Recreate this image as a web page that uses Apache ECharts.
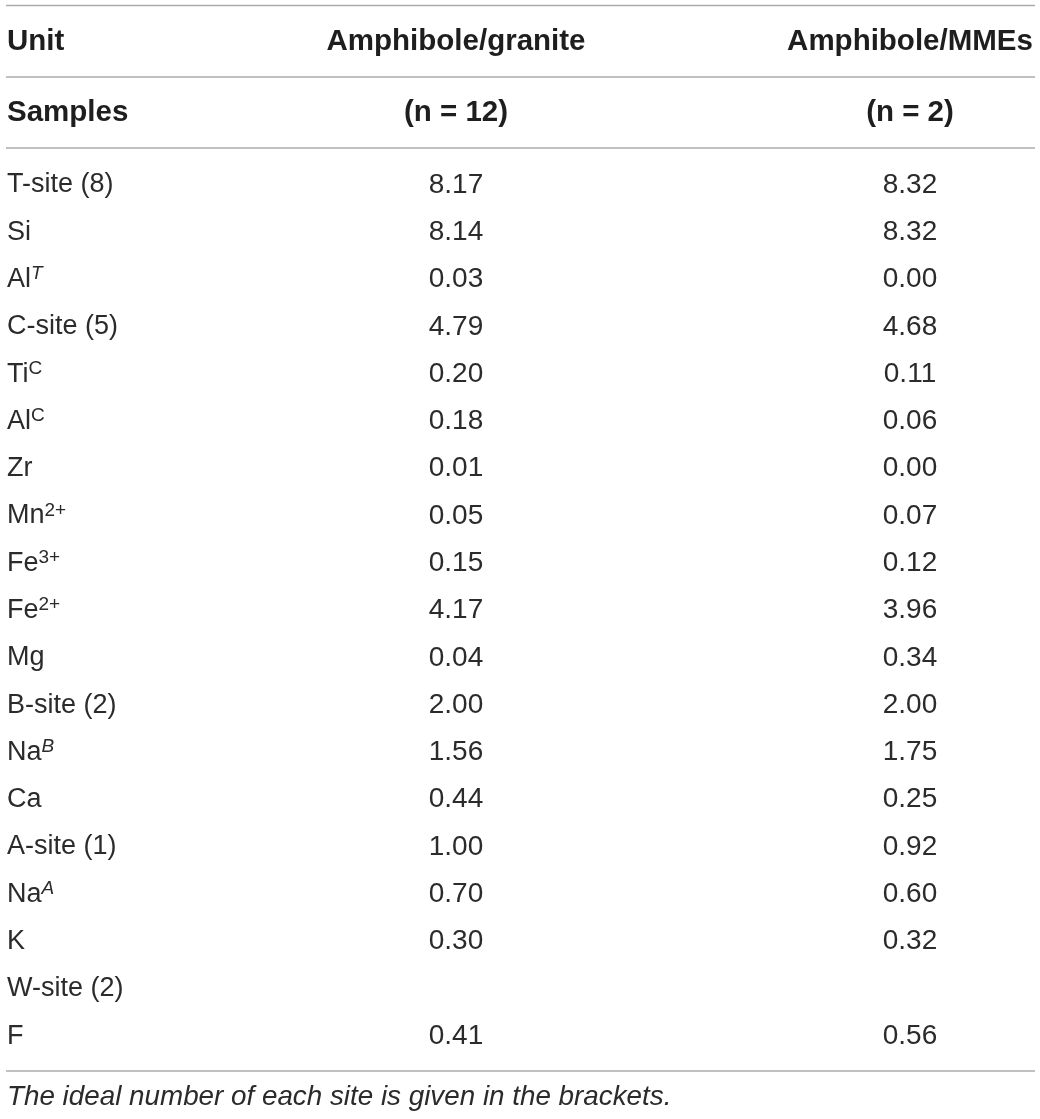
<!DOCTYPE html>
<html>
<head>
<meta charset="utf-8">
<script src="https://cdn.jsdelivr.net/npm/echarts@6/dist/echarts.min.js"></script>
<style>
  html, body { margin: 0; padding: 0; background: #fff; }
  #chart { width: 1040px; height: 1119px; }
</style>
</head>
<body>
<div id="chart"></div>
<script>
// ---------- table data ----------
const headerTop = ['Unit', 'Amphibole/granite', 'Amphibole/MMEs']
const headerSub = ['Samples', '(n = 12)', '(n = 2)']

// row keys + how they are printed (rich text for super/subscripts)
const rowKeys = ['T-site (8)', 'Si', 'AlT', 'C-site (5)', 'TiC', 'AlC', 'Zr', 'Mn2+', 'Fe3+', 'Fe2+', 'Mg',
  'B-site (2)', 'NaB', 'Ca', 'A-site (1)', 'NaA', 'K', 'W-site (2)', 'F']
const rowLabels = ['T-site (8)', 'Si', 'Al{it|T}', 'C-site (5)', 'Ti{sup|C}', 'Al{sup|C}', 'Zr', 'Mn{sup|2+}', 'Fe{sup|3+}', 'Fe{sup|2+}', 'Mg',
  'B-site (2)', 'Na{it|B}', 'Ca', 'A-site (1)', 'Na{it|A}', 'K', 'W-site (2)', 'F']

const granite = [8.17, 8.14, 0.03, 4.79, 0.20, 0.18, 0.01, 0.05, 0.15, 4.17, 0.04, 2.00, 1.56, 0.44, 1.00, 0.70, 0.30, null, 0.41]
const mmes = [8.32, 8.32, 0.00, 4.68, 0.11, 0.06, 0.00, 0.07, 0.12, 3.96, 0.34, 2.00, 1.75, 0.25, 0.92, 0.60, 0.32, null, 0.56]

const caption = 'The ideal number of each site is given in the brackets.'

// ---------- layout / style ----------
const FONT = '"Liberation Sans", Arial, Helvetica, sans-serif'
const INK = '#2b2b2b'
const RULE = '#ababab'
const COL_X = [7, 456, 910]          // anchor of each column (px on a 0..1040 x scale)
const SIZE = 28

function rule(y) {
  return { type: 'line', shape: { x1: 6, y1: y, x2: 1035, y2: y }, style: { stroke: RULE, lineWidth: 1.5 }, silent: true }
}

function headText(txt, i, y) {
  return {
    type: 'text', x: COL_X[i], y,
    style: { text: txt, fill: '#1e1e1e', fontFamily: FONT, fontSize: 29.5, fontWeight: 'bold',
      align: i === 0 ? 'left' : 'center', verticalAlign: 'middle' },
  }
}

/** one column of numbers drawn on the category rows */
function valueColumn(name, col, values) {
  return {
    type: 'custom', name,
    data: values.map((v, i) => [COL_X[col], rowKeys[i]]),
    encode: { x: 0, y: 1 },
    renderItem(params, api) {
      const v = values[params.dataIndex]
      if (v == null) return null
      const p = api.coord([api.value(0), api.value(1)])
      return {
        type: 'text', x: p[0], y: p[1],
        style: { text: v.toFixed(2), fill: INK, fontFamily: FONT, fontSize: SIZE, align: 'center', verticalAlign: 'middle' },
      }
    },
  }
}

const chart = echarts.init(document.getElementById('chart'))
chart.setOption({
  animation: false,
  backgroundColor: '#fff',
  grid: { left: 0, right: 0, top: 161.4, bottom: 59.2 },
  xAxis: { type: 'value', min: 0, max: 1040, show: false },
  yAxis: {
    type: 'category', data: rowKeys, inverse: true,
    axisLine: { show: false }, axisTick: { show: false }, splitLine: { show: false },
    axisLabel: {
      inside: true, margin: 7, align: 'left', interval: 0,
      color: INK, fontFamily: FONT, fontSize: 27, lineHeight: 30,
      formatter: (v, i) => rowLabels[i],
      rich: {
        sup: { fontSize: 19, lineHeight: 19, verticalAlign: 'top', color: INK, fontFamily: FONT },
        it: { fontSize: 19, lineHeight: 19, verticalAlign: 'top', fontStyle: 'italic', color: INK, fontFamily: FONT },
      },
    },
  },
  graphic: [
    rule(5.5), rule(77), rule(148), rule(1071),
    ...headerTop.map((t, i) => headText(t, i, 42)),
    ...headerSub.map((t, i) => headText(t, i, 113)),
    {
      type: 'text', x: 7, y: 1097,
      style: { text: caption, fill: INK, fontFamily: FONT, fontSize: 27.8, fontStyle: 'italic', align: 'left', verticalAlign: 'middle' },
    },
  ],
  series: [
    valueColumn('Amphibole/granite', 1, granite),
    valueColumn('Amphibole/MMEs', 2, mmes),
  ],
})
</script>
</body>
</html>
